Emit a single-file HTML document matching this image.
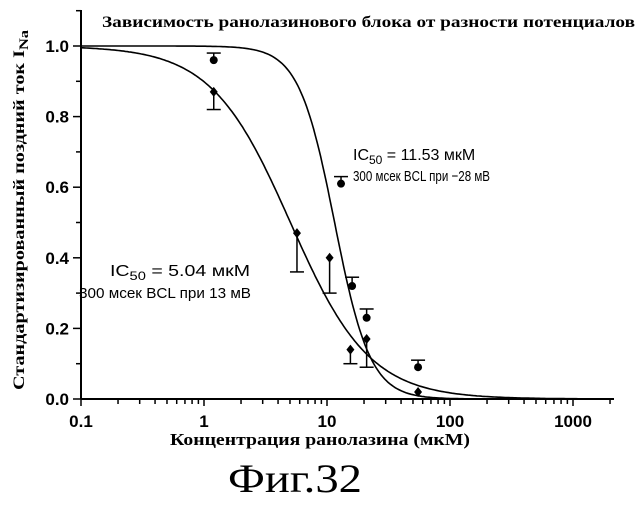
<!DOCTYPE html>
<html><head><meta charset="utf-8"><style>
body{margin:0;background:#fff;width:643px;height:500px;overflow:hidden}
svg text{font-family:"Liberation Sans",sans-serif;fill:#000}
.serif{font-family:"Liberation Serif",serif !important;font-weight:bold}
</style></head><body>
<svg id="chart" width="643" height="500" xmlns="http://www.w3.org/2000/svg">
<text class="serif" x="102" y="27" font-size="16" textLength="533" lengthAdjust="spacingAndGlyphs">Зависимость ранолазинового блока от разности потенциалов</text>
<text class="serif" x="170" y="445" font-size="17" textLength="300" lengthAdjust="spacingAndGlyphs">Концентрация ранолазина (мкМ)</text>
<text x="228" y="492" font-size="40" textLength="134" lengthAdjust="spacingAndGlyphs" style="font-family:'Liberation Serif',serif">Фиг.32</text>
<text class="serif" transform="translate(24,390) rotate(-90)" font-size="16" textLength="360" lengthAdjust="spacingAndGlyphs">Стандартизированный поздний ток I<tspan font-size="13" dy="4">Na</tspan></text>
<g id="axes"></g><g id="marks"></g>
<text x="353" y="160" font-size="16">IC<tspan font-size="12" dy="4">50</tspan><tspan dy="-4"> = 11.53 мкМ</tspan></text>
<text x="353" y="181" font-size="15" textLength="137" lengthAdjust="spacingAndGlyphs">300 мсек BCL при −28 мВ</text>
<text x="110" y="276" font-size="16" textLength="140" lengthAdjust="spacingAndGlyphs">IC<tspan font-size="12" dy="4">50</tspan><tspan dy="-4"> = 5.04 мкМ</tspan></text>
<text x="79" y="298" font-size="15" textLength="172" lengthAdjust="spacingAndGlyphs">300 мсек BCL при 13 мВ</text>
</svg>
<script>
const xTicks=[0.1,1,10,100,1000];
const xTickLabels=["0.1","1","10","100","1000"];
const yTicks=[0,0.2,0.4,0.6,0.8,1.0];
const yTickLabels=["0.0","0.2","0.4","0.6","0.8","1.0"];
const circleX=[1.2,13,16,21,55];
const circleY=[0.96,0.61,0.32,0.23,0.09];
const circleErrHi=[0.98,0.63,0.345,0.255,0.11];
const diamondX=[1.2,5.7,10.5,15.5,21,55];
const diamondY=[0.87,0.47,0.40,0.14,0.17,0.02];
const diamondErrLo=[0.82,0.36,0.30,0.10,0.09,0.02];
const ic50Steep=11.53, hillSteep=3.0;
const ic50Shallow=5.04, hillShallow=1.35;
const NS="http://www.w3.org/2000/svg";
const X=v=>81+123*(Math.log10(v)+1);
const Y=v=>399-353*v;
const axes=document.getElementById('axes'),marks=document.getElementById('marks');
function mk(tag,attrs,parent){const e=document.createElementNS(NS,tag);for(const k in attrs)e.setAttribute(k,attrs[k]);parent.appendChild(e);return e;}
let e=mk('line',{x1:81,y1:399,x2:614,y2:399,stroke:'#000','stroke-width':2},axes);


e=mk('line',{x1:81,y1:10,x2:81,y2:399,stroke:'#000','stroke-width':2},axes);


for(let d=-1;d<4;d++)for(let m=1;m<10;m++){const v=m*Math.pow(10,d);const x=X(v);if(x>614)break;
 mk('line',{x1:x,y1:399,x2:x,y2:m===1?406:404,stroke:'#000','stroke-width':1.5},axes);}
xTicks.forEach((v,i)=>{const t=mk('text',{x:X(v),y:427,'font-size':17,'font-weight':'bold','text-anchor':'middle'},axes);t.textContent=xTickLabels[i];

});
yTicks.forEach((v,i)=>{mk('line',{x1:73,y1:Y(v),x2:81,y2:Y(v),stroke:'#000','stroke-width':1.5},axes);
 mk('line',{x1:76,y1:Y(v+0.1),x2:81,y2:Y(v+0.1),stroke:'#000','stroke-width':1.5},axes);
 const t=mk('text',{x:69,y:Y(v)+6,'font-size':17,'font-weight':'bold','text-anchor':'end'},axes);t.textContent=yTickLabels[i];
 
 });
function curve(ic,n,name){let d='';for(let i=0;i<=300;i++){const lv=-1+i*4.33/300;const v=Math.pow(10,lv);const y=1/(1+Math.pow(v/ic,n));d+=(i?'L':'M')+X(v).toFixed(1)+','+Y(y).toFixed(1);}
 const p=mk('path',{d:d,fill:'none',stroke:'#000','stroke-width':1.6},marks);
 
 }
curve(ic50Steep,hillSteep,'fit-curve-minus28mv');
curve(ic50Shallow,hillShallow,'fit-curve-13mv');
circleX.forEach((v,i)=>{const x=X(v);
 mk('line',{x1:x,y1:Y(circleY[i]),x2:x,y2:Y(circleErrHi[i]),stroke:'#000','stroke-width':1.5},marks);
 mk('line',{x1:x-7,y1:Y(circleErrHi[i]),x2:x+7,y2:Y(circleErrHi[i]),stroke:'#000','stroke-width':1.5},marks);
 const c=mk('circle',{cx:x,cy:Y(circleY[i]),r:4,fill:'#000'},marks);
 
 });
diamondX.forEach((v,i)=>{const x=X(v),y=Y(diamondY[i]);
 if(diamondErrLo[i]<diamondY[i]){mk('line',{x1:x,y1:y,x2:x,y2:Y(diamondErrLo[i]),stroke:'#000','stroke-width':1.5},marks);
 mk('line',{x1:x-7,y1:Y(diamondErrLo[i]),x2:x+7,y2:Y(diamondErrLo[i]),stroke:'#000','stroke-width':1.5},marks);}
 const p=mk('path',{d:`M${x},${y-5}L${x+4},${y}L${x},${y+5}L${x-4},${y}Z`,fill:'#000'},marks);
 
 });
</script>
</body></html>
